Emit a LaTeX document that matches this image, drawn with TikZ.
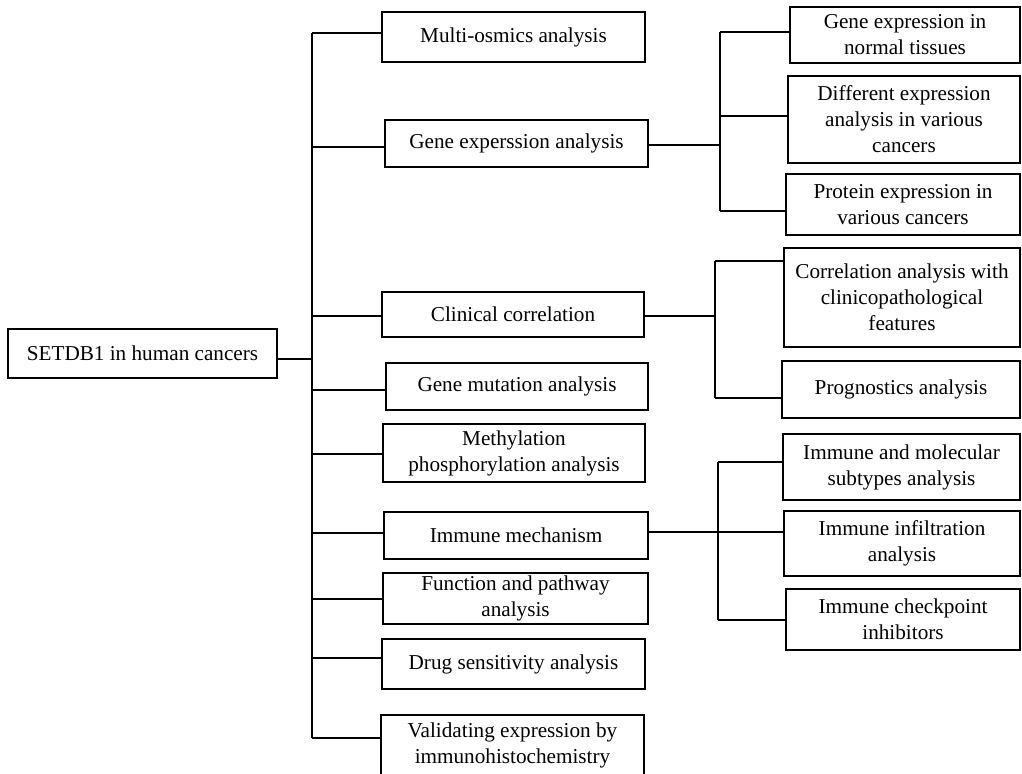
\documentclass[tikz,border=0pt]{standalone}
\usepackage{fontspec}
\setmainfont{Liberation Serif}
\usetikzlibrary{positioning}
\tikzset{cbox/.style 2 args={draw,line width=0.7pt,align=center,inner sep=1pt,
  minimum width=#1*0.5pt,minimum height=#2*0.5pt,font=\fontsize{10.6}{13}\selectfont}}
\tikzset{link/.style={line width=0.7pt}}

\begin{document}
\begin{tikzpicture}[x=0.5pt,y=-0.5pt]
\useasboundingbox (0,0) rectangle (1022,773);
% root
\node[cbox={269}{49}] (root) at (142.5,353.5) {SETDB1 in human cancers};
% middle column
\node[cbox={263}{50}] (m1) at (513.5,37) {Multi-osmics analysis};
\node[cbox={263}{47}] (m2) at (516.5,143.5) {Gene experssion analysis};
\node[cbox={262}{45}] (m3) at (513,314.5) {Clinical correlation};
\node[cbox={262}{47}] (m4) at (517,386.5) {Gene mutation analysis};
\node[cbox={262}{58}] (m5) at (514,453) {Methylation\\phosphorylation analysis};
\node[cbox={264}{47}] (m6) at (516,535.5) {Immune mechanism};
\node[cbox={265}{51}] (m7) at (515.5,598.5) {Function and pathway\\analysis};
\node[cbox={263}{50}] (m8) at (513.5,664) {Drug sensitivity analysis};
\node[cbox={263}{60}] (m9) at (512.5,745) {Validating expression by\\immunohistochemistry};
% right column
\node[cbox={230}{56}] (r1) at (905,35) {Gene expression in\\normal tissues};
\node[cbox={232}{87}] (r2) at (904,119.5) {Different expression\\analysis in various\\cancers};
\node[cbox={234}{61}] (r3) at (903,204.5) {Protein expression in\\various cancers};
\node[cbox={236}{99}] (r4) at (902,297.5) {Correlation analysis with\\clinicopathological\\features};
\node[cbox={238}{57}] (r5) at (901,389.5) {Prognostics analysis};
\node[cbox={237}{66}] (r6) at (901.5,467) {Immune and molecular\\subtypes analysis};
\node[cbox={236}{65}] (r7) at (902,543.5) {Immune infiltration\\analysis};
\node[cbox={234}{61}] (r8) at (903,619.5) {Immune checkpoint\\inhibitors};
% trunk
\coordinate (t0) at (312,359);
\draw[link] (312,33) -- (312,738);
\draw[link] (root.east |- t0) -- (t0);
\foreach \n/\y in {m1/33,m2/147,m3/316,m4/390,m5/454,m6/533,m7/599,m8/658,m9/738}{
  \coordinate (j\n) at (312,\y);
  \draw[link] (j\n) -- (\n.west |- j\n);
}
% gene expression branch
\coordinate (gm) at (720,145);
\draw[link] (720,32) -- (720,211);
\draw[link] (m2.east |- gm) -- (gm);
\foreach \r/\y in {r1/32,r2/116,r3/211}{
  \coordinate (b\r) at (720,\y);
  \draw[link] (b\r) -- (\r.west |- b\r);
}
% clinical branch
\coordinate (cm) at (715,316);
\draw[link] (715,261) -- (715,398);
\draw[link] (m3.east |- cm) -- (cm);
\foreach \r/\y in {r4/261,r5/398}{
  \coordinate (b\r) at (715,\y);
  \draw[link] (b\r) -- (\r.west |- b\r);
}
% immune branch
\coordinate (im) at (718,532);
\draw[link] (718,462) -- (718,620);
\draw[link] (m6.east |- im) -- (r7.west |- im);
\foreach \r/\y in {r6/462,r8/620}{
  \coordinate (b\r) at (718,\y);
  \draw[link] (b\r) -- (\r.west |- b\r);
}
\end{tikzpicture}
\end{document}
